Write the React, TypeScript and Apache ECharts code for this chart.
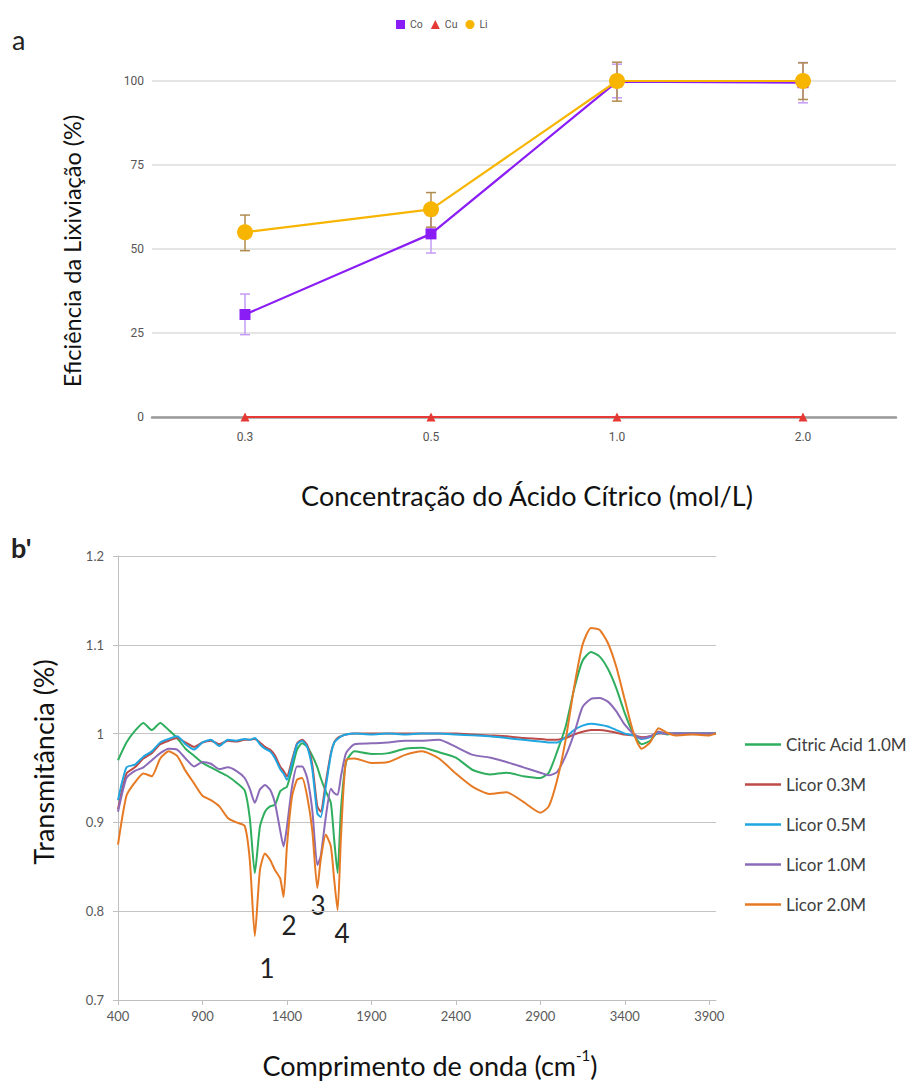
import React, { useEffect, useRef } from "react";
import * as echarts from "echarts";

// ---------- Panel a data ----------
const concentrations = ["0.3", "0.5", "1.0", "2.0"];
const coValues = [30.5, 54.5, 99.8, 99.5];
const cuValues = [0, 0, 0, 0];
const liValues = [55, 61.8, 100, 100];
const coLow = [24.5, 48.8, 95, 93.5];
const coHigh = [36.6, 60, 105, 105.5];
const liLow = [49.5, 56.5, 94, 94.5];
const liHigh = [60.1, 66.8, 105.6, 105.4];

// ---------- Panel b data ----------
const wavenumbers = [
  400, 450, 500, 550, 600, 650, 700, 750, 800, 850, 900, 950, 1000, 1050, 1100, 1150,
  1180, 1210, 1240, 1270, 1300, 1330, 1360, 1380, 1400, 1430, 1460, 1490, 1520, 1550, 1580, 1600, 1630, 1660, 1680, 1700, 1720, 1750,
  1800, 1900, 2000, 2100, 2200, 2300, 2400, 2500, 2600, 2700, 2800, 2900,
  2950, 3000, 3050, 3100, 3150, 3200, 3250, 3300, 3350, 3400, 3450, 3500, 3550, 3600, 3650, 3700,
  3800, 3900, 3940,
];
const citricAcid10 = [
  0.970, 0.990, 1.003, 1.012, 1.004, 1.012, 1.004, 0.995, 0.983, 0.975, 0.967, 0.962, 0.957, 0.952, 0.945, 0.936,
  0.905, 0.843, 0.895, 0.912, 0.918, 0.920, 0.935, 0.938, 0.940, 0.960, 0.982, 0.989, 0.985, 0.975, 0.962, 0.950, 0.935, 0.922, 0.880, 0.843, 0.915, 0.968,
  0.980, 0.977, 0.978, 0.983, 0.984, 0.979, 0.973, 0.959, 0.954, 0.956, 0.952, 0.950,
  0.956, 0.980, 1.008, 1.050, 1.082, 1.092, 1.087, 1.073, 1.051, 1.023, 1.000, 0.988, 0.992, 1.002, 0.999, 1.000,
  1.000, 1.000, 1.000,
];
const licor03 = [
  0.915, 0.955, 0.962, 0.972, 0.978, 0.988, 0.992, 0.995, 0.990, 0.985, 0.990, 0.992, 0.988, 0.992, 0.991, 0.993,
  0.993, 0.994, 0.990, 0.985, 0.982, 0.975, 0.963, 0.958, 0.952, 0.970, 0.989, 0.993, 0.987, 0.965, 0.918, 0.912, 0.945, 0.978, 0.990, 0.995, 0.997, 0.999,
  1.000, 1.000, 1.000, 1.000, 1.000, 1.000, 1.000, 0.999, 0.998, 0.997, 0.995, 0.994,
  0.993, 0.993, 0.995, 0.999, 1.002, 1.004, 1.004, 1.003, 1.001, 0.999, 0.998, 0.996, 0.997, 1.000, 1.000, 1.000,
  1.000, 1.000, 1.000,
];
const licor05 = [
  0.925, 0.962, 0.965, 0.974, 0.980, 0.990, 0.994, 0.997, 0.988, 0.982, 0.990, 0.993, 0.986, 0.993, 0.992, 0.994,
  0.993, 0.995, 0.988, 0.983, 0.980, 0.972, 0.960, 0.955, 0.948, 0.967, 0.988, 0.992, 0.985, 0.960, 0.910, 0.906, 0.940, 0.976, 0.990, 0.994, 0.997, 0.999,
  1.000, 0.999, 1.000, 0.999, 1.000, 1.000, 0.999, 0.998, 0.997, 0.995, 0.993, 0.991,
  0.990, 0.990, 0.996, 1.004, 1.009, 1.011, 1.010, 1.008, 1.004, 1.000, 0.998, 0.994, 0.996, 1.001, 1.000, 1.000,
  1.000, 1.000, 1.000,
];
const licor10 = [
  0.912, 0.950, 0.958, 0.962, 0.970, 0.978, 0.983, 0.982, 0.972, 0.963, 0.968, 0.966, 0.960, 0.962, 0.958, 0.950,
  0.938, 0.922, 0.937, 0.942, 0.937, 0.921, 0.891, 0.873, 0.895, 0.940, 0.963, 0.963, 0.950, 0.914, 0.852, 0.862, 0.906, 0.938, 0.933, 0.931, 0.952, 0.978,
  0.988, 0.989, 0.990, 0.992, 0.992, 0.993, 0.985, 0.976, 0.973, 0.968, 0.962, 0.956,
  0.953, 0.957, 0.975, 1.000, 1.030, 1.039, 1.040, 1.036, 1.025, 1.010, 1.000, 0.995, 0.997, 1.002, 1.000, 1.000,
  1.000, 1.000, 1.000,
];
const licor20 = [
  0.875, 0.930, 0.945, 0.955, 0.952, 0.972, 0.980, 0.975, 0.958, 0.944, 0.930, 0.925, 0.918, 0.905, 0.900, 0.896,
  0.858, 0.772, 0.846, 0.865, 0.858, 0.846, 0.837, 0.816, 0.873, 0.929, 0.948, 0.950, 0.929, 0.891, 0.826, 0.858, 0.886, 0.873, 0.835, 0.801, 0.884, 0.970,
  0.972, 0.967, 0.968, 0.976, 0.980, 0.972, 0.955, 0.940, 0.932, 0.934, 0.923, 0.911,
  0.918, 0.948, 0.993, 1.052, 1.100, 1.119, 1.117, 1.102, 1.075, 1.038, 1.002, 0.983, 0.990, 1.006, 1.001, 0.998,
  0.999, 0.998, 1.000,
];
const xTicksB = [400, 900, 1400, 1900, 2400, 2900, 3400, 3900];
const spectraNames = ["Citric Acid 1.0M", "Licor 0.3M", "Licor 0.5M", "Licor 1.0M", "Licor 2.0M"];
const spectraValues = [citricAcid10, licor03, licor05, licor10, licor20];
const spectraColors = ["#2fae5e", "#bd4b47", "#1fa5e0", "#8b6bb8", "#e67a24"];
const peakLabels = ["1", "2", "3", "4"];

const BIG = "Lato, 'Open Sans', sans-serif";

function errorSeries(name: string, low: number[], high: number[], color: string) {
  return {
    type: "custom",
    name,
    xAxisIndex: 0,
    yAxisIndex: 0,
    z: 1,
    data: low.map((l, i) => [i, l, high[i]]),
    encode: { x: 0, y: [1, 2] },
    renderItem: (params: any, api: any) => {
      const i = api.value(0);
      const lo = api.coord([i, api.value(1)]);
      const hi = api.coord([i, api.value(2)]);
      const w = 5;
      const st = { stroke: color, lineWidth: 1.5 };
      return {
        type: "group",
        children: [
          { type: "line", shape: { x1: lo[0], y1: lo[1], x2: hi[0], y2: hi[1] }, style: st },
          { type: "line", shape: { x1: lo[0] - w, y1: lo[1], x2: lo[0] + w, y2: lo[1] }, style: st },
          { type: "line", shape: { x1: hi[0] - w, y1: hi[1], x2: hi[0] + w, y2: hi[1] }, style: st },
        ],
      };
    },
  };
}

export default function App() {
  const ref = useRef<HTMLDivElement>(null);
  useEffect(() => {
    if (!ref.current) return;
    const chart = echarts.init(ref.current, null, { renderer: "svg" });
    const peakPos = [
      [267, 968],
      [289, 925],
      [318, 905],
      [342, 933],
    ];
    const option: any = {
      animation: false,
      backgroundColor: "#ffffff",
      grid: [
        { left: 152, right: 18, top: 81, height: 336 },
        { left: 118, right: 198, top: 556, height: 444 },
      ],
      legend: [
        {
          top: 14,
          left: 391,
          itemWidth: 9,
          itemHeight: 9,
          itemGap: 8,
          textStyle: { color: "#555", fontSize: 10.5, fontFamily: "Roboto, sans-serif" },
          data: [
            { name: "Co", icon: "rect" },
            { name: "Cu", icon: "triangle" },
            { name: "Li", icon: "circle" },
          ],
        },
        {
          orient: "vertical",
          left: 740,
          top: 731,
          itemWidth: 36,
          itemHeight: 2.5,
          itemGap: 23,
          icon: "rect",
          textStyle: { color: "#404040", fontSize: 17, fontFamily: BIG },
          data: spectraNames,
        },
      ],
      xAxis: [
        {
          gridIndex: 0,
          type: "category",
          data: concentrations,
          boundaryGap: true,
          axisLine: { lineStyle: { color: "#9a9a9a", width: 2.5 } },
          axisTick: { show: false },
          axisLabel: { color: "#555", fontSize: 12, margin: 14, fontFamily: "Roboto, sans-serif" },
          splitLine: { show: false },
        },
        {
          gridIndex: 1,
          type: "value",
          min: 400,
          max: 3940,
          interval: 500,
          axisLine: { show: true, onZero: false, lineStyle: { color: "#bfbfbf", width: 1 } },
          axisTick: { show: true, length: 5, customValues: xTicksB, lineStyle: { color: "#bfbfbf" } },
          axisLabel: {
            customValues: xTicksB,
            color: "#595959",
            fontSize: 13,
            margin: 9,
            fontFamily: BIG,
            formatter: (v: number) => (xTicksB.indexOf(Math.round(v)) >= 0 ? String(Math.round(v)) : ""),
          },
          splitLine: { show: false },
        },
      ],
      yAxis: [
        {
          gridIndex: 0,
          type: "value",
          min: 0,
          max: 100,
          interval: 25,
          axisLine: { show: false },
          axisTick: { show: false },
          axisLabel: { color: "#555", fontSize: 12, margin: 8, fontFamily: "Roboto, sans-serif" },
          splitLine: { lineStyle: { color: "#dcdcdc", width: 1.5 } },
        },
        {
          gridIndex: 1,
          type: "value",
          min: 0.7,
          max: 1.2,
          interval: 0.1,
          axisLine: { show: true, lineStyle: { color: "#bfbfbf" } },
          axisTick: { show: true, length: 5, lineStyle: { color: "#bfbfbf" } },
          axisLabel: {
            color: "#595959",
            fontSize: 13,
            margin: 14,
            fontFamily: BIG,
            formatter: (v: number) => String(Math.round(v * 10) / 10),
          },
          splitLine: { lineStyle: { color: "#c4c4c4", width: 1 } },
        },
      ],
      series: [
        errorSeries("Co err", coLow, coHigh, "#c49bf7"),
        errorSeries("Li err", liLow, liHigh, "#b08b4e"),
        {
          name: "Co",
          type: "line",
          xAxisIndex: 0,
          yAxisIndex: 0,
          data: coValues,
          symbol: "rect",
          symbolSize: 11,
          color: "#8a1cf5",
          lineStyle: { width: 2.2 },
        },
        {
          name: "Cu",
          type: "line",
          xAxisIndex: 0,
          yAxisIndex: 0,
          data: cuValues,
          symbol: "triangle",
          symbolSize: 9,
          color: "#e53935",
          lineStyle: { width: 2 },
        },
        {
          name: "Li",
          type: "line",
          xAxisIndex: 0,
          yAxisIndex: 0,
          data: liValues,
          symbol: "circle",
          symbolSize: 16,
          color: "#f7b500",
          lineStyle: { width: 2.2 },
        },
        ...spectraNames.map((name, k) => ({
          name,
          type: "line",
          xAxisIndex: 1,
          yAxisIndex: 1,
          data: wavenumbers.map((w, i) => [w, spectraValues[k][i]]),
          symbol: "none",
          smooth: 0.2,
          color: spectraColors[k],
          lineStyle: { width: 2 },
        })),
      ],
      graphic: [
        { type: "text", x: 12, y: 26, style: { text: "a", fontSize: 27, fontFamily: BIG, fill: "#222" } },
        { type: "text", x: 11, y: 534, style: { text: "b'", fontSize: 27, fontFamily: BIG, fontWeight: "bold", fill: "#222" } },
        {
          type: "text",
          x: 72,
          y: 251,
          rotation: Math.PI / 2,
          style: { text: "Eficiência da Lixiviação (%)", fontSize: 23.5, fontFamily: BIG, fill: "#111", align: "center", verticalAlign: "middle" },
        },
        {
          type: "text",
          x: 527,
          y: 495,
          style: { text: "Concentração do Ácido Cítrico (mol/L)", fontSize: 27, fontFamily: BIG, fill: "#111", align: "center", verticalAlign: "middle" },
        },
        {
          type: "text",
          x: 43,
          y: 762,
          rotation: Math.PI / 2,
          style: { text: "Transmitância (%)", fontSize: 27, fontFamily: BIG, fill: "#111", align: "center", verticalAlign: "middle" },
        },
        {
          type: "text",
          x: 430,
          y: 1063,
          style: {
            text: "{a|Comprimento de onda (cm}{s|-1}{a|)}",
            align: "center",
            verticalAlign: "middle",
            rich: {
              a: { fontSize: 27, fontFamily: BIG, fill: "#111", color: "#111", lineHeight: 32, verticalAlign: "bottom" },
              s: { fontSize: 15, fontFamily: BIG, fill: "#111", color: "#111", lineHeight: 15, verticalAlign: "top" },
            },
          },
        },
        ...peakLabels.map((t, i) => ({
          type: "text",
          x: peakPos[i][0],
          y: peakPos[i][1],
          style: { text: t, fontSize: 26, fontFamily: BIG, fill: "#222", align: "center", verticalAlign: "middle" },
        })),
      ],
    };
    chart.setOption(option);
    return () => chart.dispose();
  }, []);
  return (
    <div
      ref={ref}
      style={{ position: "absolute", left: 0, top: 0, width: 914, height: 1089, background: "#fff" }}
    />
  );
}
